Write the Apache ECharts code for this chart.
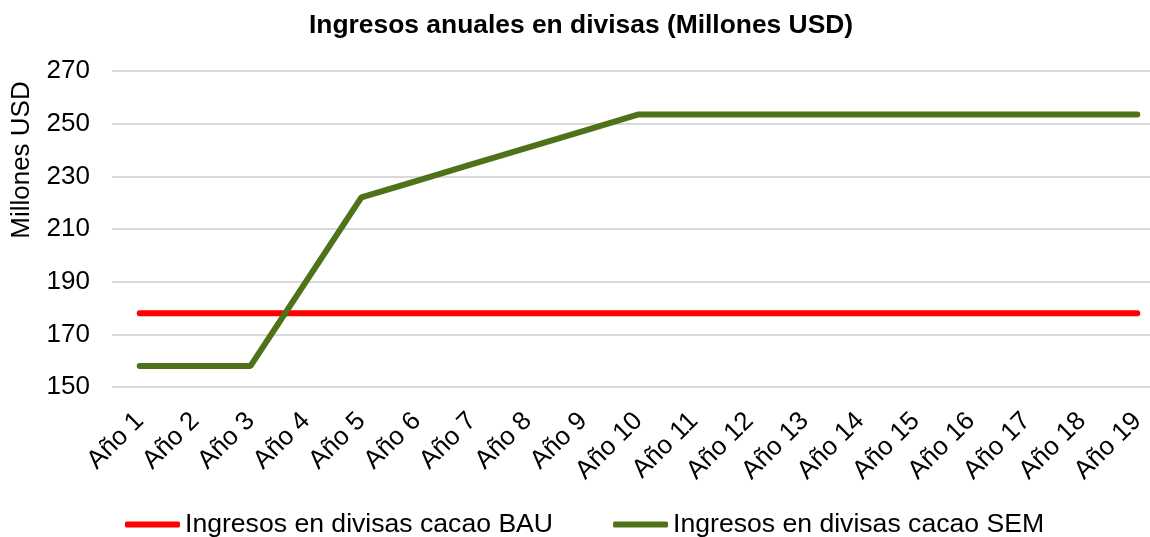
<!DOCTYPE html>
<html>
<head>
<meta charset="utf-8">
<script src="https://cdn.jsdelivr.net/npm/echarts@6/dist/echarts.min.js"></script>
<style>
  html, body { margin: 0; padding: 0; background: #fff; }
  #chart { width: 1150px; height: 537px; }
</style>
</head>
<body>
<div id="chart"></div>
<script>
const years = ['Año 1', 'Año 2', 'Año 3', 'Año 4', 'Año 5', 'Año 6', 'Año 7', 'Año 8', 'Año 9', 'Año 10',
  'Año 11', 'Año 12', 'Año 13', 'Año 14', 'Año 15', 'Año 16', 'Año 17', 'Año 18', 'Año 19']
const bau = [178, 178, 178, 178, 178, 178, 178, 178, 178, 178, 178, 178, 178, 178, 178, 178, 178, 178, 178]
const sem = [158, 158, 158, 190, 222, 228.3, 234.6, 240.9, 247.2, 253.5,
  253.5, 253.5, 253.5, 253.5, 253.5, 253.5, 253.5, 253.5, 253.5]
const seriesNames = ['Ingresos en divisas cacao BAU', 'Ingresos en divisas cacao SEM']

const font = 'Liberation Sans, Arial, sans-serif'
const chart = echarts.init(document.getElementById('chart'))

const option = {
  animation: false,
  title: {
    text: 'Ingresos anuales en divisas (Millones USD)',
    left: 304,
    top: 8,
    textStyle: { fontFamily: font, fontSize: 26.4, fontWeight: 'bold', color: '#000' }
  },
  graphic: [{
    type: 'text',
    x: 22,
    y: 160,
    rotation: Math.PI / 2,
    style: {
      text: 'Millones USD',
      font: '26px ' + font,
      fill: '#000',
      textAlign: 'center',
      textVerticalAlign: 'middle'
    }
  }],
  legend: {
    top: 506,
    left: 120,
    icon: 'roundRect',
    itemWidth: 55,
    itemHeight: 6,
    itemGap: 60,
    textStyle: { fontFamily: font, fontSize: 26.6, color: '#000' },
    data: seriesNames
  },
  grid: { left: 112, right: -15, top: 71, bottom: 150, outerBoundsMode: 'none' },
  xAxis: {
    type: 'category',
    data: years,
    boundaryGap: true,
    axisLine: { show: false },
    axisTick: { show: false },
    axisLabel: { rotate: 45, fontFamily: font, fontSize: 26, color: '#000', margin: 30, interval: 0 }
  },
  yAxis: {
    type: 'value',
    min: 150,
    max: 270,
    interval: 20,
    axisLine: { show: false },
    axisTick: { show: false },
    axisLabel: { fontFamily: font, fontSize: 26, color: '#000', margin: 22 },
    splitLine: { lineStyle: { color: '#d9d9d9', width: 2 } }
  },
  series: [
    {
      name: seriesNames[0],
      type: 'line',
      data: bau,
      symbol: 'none',
      color: '#ff0000',
      lineStyle: { width: 6, color: '#ff0000', cap: 'round' }
    },
    {
      name: seriesNames[1],
      type: 'line',
      data: sem,
      symbol: 'none',
      color: '#4f7218',
      lineStyle: { width: 6, color: '#4f7218', cap: 'round' }
    }
  ]
}

chart.setOption(option)
</script>
</body>
</html>
